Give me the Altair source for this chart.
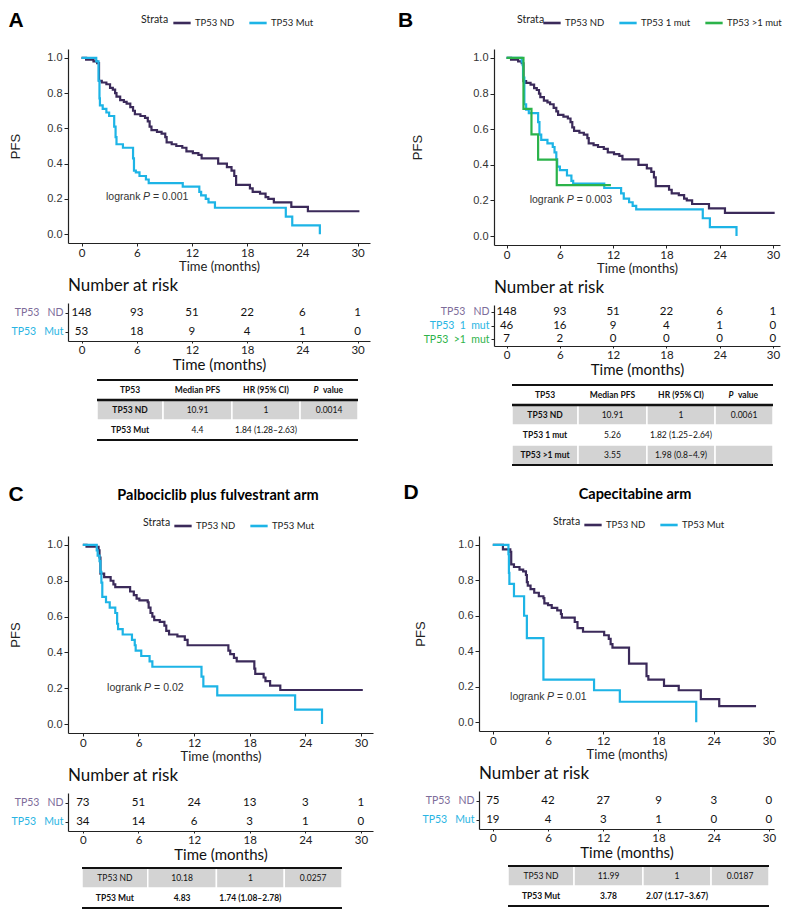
import altair as alt
import pandas as pd

# ---------------- data ----------------
PURPLE = "#3b2a5a"
BLUE = "#1db4e6"
GREEN = "#2bb34a"
LBL_PURPLE = "#7d6c9a"
LBL_BLUE = "#29b5e3"
LBL_GREEN = "#2db34a"

ND_T = [0, 0.5, 1.3, 1.7, 1.9, 2.2, 2.7, 3.1, 3.4, 3.65, 3.8, 4.2, 4.6, 4.9, 5.3, 5.6, 5.8, 6.4, 6.9, 7.2,
        7.4, 7.6, 8.2, 8.7, 9.1, 9.25, 9.8, 10.3, 10.95, 11.4, 12.1, 12.7, 13.05, 14.85, 15.8, 16.3, 16.6,
        16.8, 18.3, 18.6, 19.4, 20.0, 20.3, 20.9, 22.8, 24.6, 30.2]
ND_S = [1.0, 0.99, 0.98, 0.97, 0.87, 0.86, 0.85, 0.83, 0.82, 0.80, 0.78, 0.76, 0.75, 0.74, 0.72, 0.70, 0.68,
        0.67, 0.66, 0.64, 0.61, 0.59, 0.58, 0.57, 0.55, 0.52, 0.51, 0.50, 0.49, 0.47, 0.46, 0.45, 0.43, 0.40,
        0.38, 0.36, 0.33, 0.28, 0.26, 0.24, 0.23, 0.21, 0.20, 0.18, 0.155, 0.13, 0.13]

A_MUT_T = [0, 1.6, 1.85, 1.95, 2.0, 2.3, 2.7, 3.0, 3.55, 3.7, 3.8, 4.5, 5.6, 5.7, 5.9, 6.3, 7.0, 7.3, 11.0,
           12.8, 13.0, 13.5, 13.8, 14.5, 22.2, 22.9, 25.9]
A_MUT_S = [1.0, 0.98, 0.87, 0.77, 0.73, 0.71, 0.69, 0.67, 0.61, 0.55, 0.51, 0.49, 0.43, 0.36, 0.35, 0.33,
           0.31, 0.29, 0.27, 0.24, 0.22, 0.20, 0.18, 0.15, 0.10, 0.05, 0.0]

B_1MUT_T = [0, 1.7, 1.8, 1.85, 2.0, 2.2, 2.5, 3.55, 3.7, 3.9, 4.6, 5.2, 5.4, 5.6, 5.7, 6.0, 6.8, 7.3, 7.5,
            11.0, 12.9, 13.2, 13.8, 14.2, 14.6, 22.1, 22.9, 25.9]
B_1MUT_S = [1.0, 0.98, 0.96, 0.89, 0.74, 0.71, 0.69, 0.64, 0.57, 0.54, 0.52, 0.50, 0.47, 0.43, 0.39, 0.37,
            0.34, 0.31, 0.295, 0.27, 0.24, 0.21, 0.19, 0.17, 0.15, 0.10, 0.05, 0.0]

B_2MUT_T = [0, 1.9, 2.8, 3.55, 5.65, 11.75]
B_2MUT_S = [1.0, 0.714, 0.571, 0.429, 0.286, 0.286]

C_ND_T = [0, 0.4, 1.7, 1.8, 1.9, 2.3, 3.0, 3.3, 3.5, 5.1, 5.5, 5.8, 6.1, 7.0, 7.1, 7.3, 7.5, 7.7, 8.3, 8.8,
          9.0, 9.3, 10.2, 11.0, 11.3, 15.7, 15.9, 16.3, 16.6, 18.5, 18.6, 19.5, 19.7, 20.2, 21.3, 30.2]
C_ND_S = [1.0, 0.99, 0.97, 0.93, 0.84, 0.82, 0.80, 0.78, 0.765, 0.74, 0.72, 0.70, 0.69, 0.68, 0.65, 0.62,
          0.60, 0.58, 0.57, 0.55, 0.52, 0.50, 0.49, 0.47, 0.44, 0.41, 0.39, 0.37, 0.35, 0.31, 0.28, 0.26,
          0.24, 0.215, 0.19, 0.19]

C_MUT_T = [0, 1.5, 1.6, 1.8, 1.9, 2.0, 2.1, 2.5, 2.9, 3.5, 3.7, 3.8, 4.3, 5.3, 5.6, 5.7, 6.3, 7.2, 7.5,
           12.8, 13.0, 14.5, 22.9, 25.8]
C_MUT_S = [1.0, 0.97, 0.94, 0.91, 0.85, 0.79, 0.71, 0.68, 0.65, 0.62, 0.56, 0.53, 0.50, 0.47, 0.44, 0.41,
           0.38, 0.35, 0.32, 0.265, 0.21, 0.16, 0.08, 0.0]

D_ND_T = [0, 1.1, 1.9, 2.0, 2.3, 2.9, 3.3, 3.6, 3.7, 3.8, 4.1, 4.5, 5.0, 5.5, 5.6, 6.0, 6.4, 7.0, 7.4, 7.5,
          8.9, 9.2, 9.8, 12.1, 12.6, 12.8, 13.0, 14.8, 16.7, 16.9, 18.6, 20.2, 22.6, 24.6, 28.6]
D_ND_S = [1.0, 0.975, 0.96, 0.89, 0.875, 0.86, 0.85, 0.83, 0.79, 0.77, 0.75, 0.73, 0.71, 0.70, 0.67, 0.66,
          0.645, 0.63, 0.61, 0.59, 0.565, 0.53, 0.51, 0.49, 0.47, 0.44, 0.42, 0.33, 0.26, 0.24, 0.205, 0.18,
          0.13, 0.09, 0.09]

D_MUT_T = [0, 1.7, 1.75, 1.8, 2.3, 3.4, 3.7, 5.5, 11.0, 13.8, 22.1]
D_MUT_S = [1.0, 0.947, 0.842, 0.78, 0.71, 0.60, 0.474, 0.24, 0.18, 0.115, 0.0]

RISK_TIMES = [0, 6, 12, 18, 24, 30]
A_RISK_ND = [148, 93, 51, 22, 6, 1]
A_RISK_MUT = [53, 18, 9, 4, 1, 0]
B_RISK_1MUT = [46, 16, 9, 4, 1, 0]
B_RISK_2MUT = [7, 2, 0, 0, 0, 0]
C_RISK_ND = [73, 51, 24, 13, 3, 1]
C_RISK_MUT = [34, 14, 6, 3, 1, 0]
D_RISK_ND = [75, 42, 27, 9, 3, 0]
D_RISK_MUT = [19, 4, 3, 1, 0, 0]

TABLE_HEADER = ["TP53", "Median PFS", "HR (95% CI)", "P value"]
A_TABLE = [["TP53 ND", "10.91", "1", "0.0014"], ["TP53 Mut", "4.4", "1.84 (1.28\u20132.63)", ""]]
B_TABLE = [["TP53 ND", "10.91", "1", "0.0061"], ["TP53 1 mut", "5.26", "1.82 (1.25\u20132.64)", ""],
           ["TP53 >1 mut", "3.55", "1.98 (0.8\u20134.9)", ""]]
C_TABLE = [["TP53 ND", "10.18", "1", "0.0257"], ["TP53 Mut", "4.83", "1.74 (1.08\u20132.78)", ""]]
D_TABLE = [["TP53 ND", "11.99", "1", "0.0187"], ["TP53 Mut", "3.78", "2.07 (1.17\u20133.67)", ""]]
COL_EDGES = [0, 0.253, 0.517, 0.778, 1.0]

NB = "\u00a0"
L_ND = "TP53" + NB * 3 + "ND"
L_MUT = "TP53" + NB * 3 + "Mut"
L_1MUT = "TP53" + NB * 2 + "1" + NB * 2 + "mut"
L_2MUT = "TP53" + NB * 2 + ">1" + NB * 2 + "mut"

TXT = "#222222"


def km_chart(curves, xdom, width, height, letter, letter_pos, strata_pos, legend_pos, p_text, p_pos,
             ytitle_x, title=None, title_pos=None):
    names = [c[0] for c in curves]
    colors = [c[1] for c in curves]
    recs = []
    for name, col, t, s in curves:
        for ti, si in zip(t, s):
            recs.append({"strata": name, "time": ti, "surv": si})
    df = pd.DataFrame(recs)
    xsc = alt.Scale(domain=xdom, nice=False, zero=False)
    ysc = alt.Scale(domain=[-0.05, 1.05], nice=False, zero=False)
    xenc = alt.X("time:Q", scale=xsc,
                 axis=alt.Axis(values=RISK_TIMES, title="Time (months)", labelFont="Lato",
                               labelFontSize=11.5, titleFont="Lato", titleFontSize=13,
                               titleFontWeight="normal", tickSize=3, labelPadding=1,
                               titlePadding=2, labelColor=TXT, titleColor=TXT, labelOverlap=False))
    yenc = alt.Y("surv:Q", scale=ysc,
                 axis=alt.Axis(values=[0, 0.2, 0.4, 0.6, 0.8, 1.0], format=".1f", title="PFS",
                               labelFont="Liberation Sans", labelFontSize=11,
                               titleFont="Liberation Sans", titleFontSize=13,
                               titleFontWeight="normal", tickSize=4, labelPadding=2,
                               titleX=ytitle_x, titleBaseline="middle", labelOverlap=False,
                               labelColor="#333333", titleColor=TXT))
    lines = alt.Chart(df).mark_line(interpolate="step-after", strokeWidth=2.2).encode(
        x=xenc, y=yenc,
        color=alt.Color("strata:N", scale=alt.Scale(domain=names, range=colors),
                        legend=alt.Legend(orient="none", legendX=legend_pos[0],
                                          legendY=legend_pos[1], direction="horizontal",
                                          gridAlign="none", title=None,
                                          labelFont="Lato", labelFontSize=9.5,
                                          labelColor=TXT, symbolType="stroke",
                                          symbolStrokeWidth=2.6, symbolSize=300,
                                          labelOffset=3, columnPadding=9)),
    )
    pdf = pd.DataFrame({"time": [p_pos[0]], "surv": [p_pos[1]], "a": ["logrank"], "b": ["P"],
                        "c": ["= " + p_text]})
    base_txt = dict(font="Liberation Sans", fontSize=10.5, color="#333333", align="left",
                    baseline="middle")
    t1 = alt.Chart(pdf).mark_text(**base_txt).encode(x=xenc, y=yenc, text="a:N")
    t2 = alt.Chart(pdf).mark_text(dx=37, fontStyle="italic", **base_txt).encode(x=xenc, y=yenc, text="b:N")
    t3 = alt.Chart(pdf).mark_text(dx=47, **base_txt).encode(x=xenc, y=yenc, text="c:N")
    lay = alt.Chart(pd.DataFrame({"t": [letter]})).mark_text(
        font="Liberation Sans", fontSize=21, fontWeight="bold", color="#000000",
        align="center", baseline="middle").encode(
        text="t:N", x=alt.value(letter_pos[0]), y=alt.value(letter_pos[1]))
    strata = alt.Chart(pd.DataFrame({"t": ["Strata"]})).mark_text(
        font="Lato", fontSize=10.5, color=TXT, align="left", baseline="middle").encode(
        text="t:N", x=alt.value(strata_pos[0]), y=alt.value(strata_pos[1]))
    layers = [lines, t1, t2, t3, lay, strata]
    if title:
        tl = alt.Chart(pd.DataFrame({"t": [title]})).mark_text(
            font="Lato", fontSize=14.5, fontWeight="bold", color="#000000",
            align="center", baseline="middle").encode(
            text="t:N", x=alt.value(title_pos[0]), y=alt.value(title_pos[1]))
        layers.append(tl)
    return alt.layer(*layers).properties(width=width, height=height)


def risk_chart(rows, xdom, width, height):
    labels = [r[0] for r in rows]
    recs = []
    for lab, col, counts in rows:
        for t, n in zip(RISK_TIMES, counts):
            recs.append({"strata": lab, "time": t, "n": n})
    df = pd.DataFrame(recs)
    expr = ""
    for lab, col, counts in rows[:-1]:
        expr += "datum.value === '%s' ? '%s' : " % (lab, col)
    expr += "'%s'" % rows[-1][1]
    return alt.Chart(df).mark_text(font="Lato", fontSize=11.5, color="#111111").encode(
        x=alt.X("time:Q", scale=alt.Scale(domain=xdom, nice=False, zero=False),
                axis=alt.Axis(values=RISK_TIMES, title="Time (months)", labelFont="Lato",
                              labelFontSize=11.5, titleFont="Lato", titleFontSize=15,
                              titleFontWeight="normal", tickSize=2, labelPadding=1,
                              titlePadding=2, labelColor=TXT, titleColor="#111111",
                              labelOverlap=False)),
        y=alt.Y("strata:N", sort=labels,
                axis=alt.Axis(title=None, labelFont="Lato", labelFontSize=10.5, tickSize=3,
                              labelPadding=2, labelColor={"expr": expr})),
        text="n:Q",
    ).properties(width=width, height=height,
                 title=alt.TitleParams("Number at risk", anchor="start", frame="group",
                                       font="Lato", fontSize=17, fontWeight="normal",
                                       color="#111111", offset=8))


def table_chart(header, rows, gray_rows, bold_rows, width, height, x_range, top, row_h=20):
    all_rows = ([header] if header else []) + rows
    n = len(all_rows)
    recs = []
    for r, cells in enumerate(all_rows):
        is_head = header is not None and r == 0
        dr = r - (1 if header else 0)
        for c, txt in enumerate(cells):
            gray = (not is_head) and dr in gray_rows
            bold = is_head or (c == 0 and header is not None) or (dr in bold_rows)
            kind = "b" if bold else "n"
            rec = dict(r=r, r1=r + 1, rc=r + 0.5, c0=COL_EDGES[c], c1=COL_EDGES[c + 1],
                       cc=(COL_EDGES[c] + COL_EDGES[c + 1]) / 2, text=txt, gray=gray, kind=kind)
            if is_head and txt == "P value":
                recs.append(dict(rec, text="P", kind="pi"))
                recs.append(dict(rec, text="value", kind="pv"))
            else:
                recs.append(rec)
    df = pd.DataFrame(recs)
    xs = alt.Scale(domain=[0, 1], range=x_range, nice=False, zero=False)
    ys = alt.Scale(domain=[0, n], range=[top, top + n * row_h], nice=False, zero=False)
    rects = alt.Chart(df).transform_filter("datum.gray").mark_rect(
        color="#d3d3d3", stroke="white", strokeWidth=1.5).encode(
        x=alt.X("c0:Q", scale=xs, axis=None), x2="c1:Q",
        y=alt.Y("r:Q", scale=ys, axis=None), y2="r1:Q")
    tx = dict(font="Lato", fontSize=8.5, color="#111111", baseline="middle")
    layers = [rects]
    for kind, extra in [("n", {}), ("b", {"fontWeight": "bold"}),
                        ("pi", {"fontWeight": "bold", "fontStyle": "italic", "dx": -13}),
                        ("pv", {"fontWeight": "bold", "dx": 4})]:
        layers.append(alt.Chart(df).transform_filter("datum.kind === '%s'" % kind).mark_text(
            **tx, **extra).encode(x=alt.X("cc:Q", scale=xs, axis=None),
                                  y=alt.Y("rc:Q", scale=ys, axis=None), text="text:N"))
    lines = [0, n] + ([1] if header else [])
    widths = [2.2, 2.2] + ([2.6] if header else [])
    ldf = pd.DataFrame({"y": lines, "w": widths, "a": [0] * len(lines), "b": [1] * len(lines)})
    rules = alt.Chart(ldf).mark_rule(color="#111111").encode(
        x=alt.X("a:Q", scale=xs, axis=None), x2="b:Q",
        y=alt.Y("y:Q", scale=ys, axis=None), size=alt.Size("w:Q", scale=None))
    layers.append(rules)
    return alt.layer(*layers).properties(width=width, height=height)


def panel(km, risk, table, sp):
    top = alt.vconcat(km, risk, table, spacing=sp)
    return top.resolve_scale(x="independent", y="independent", color="independent")


# ---------------- panels ----------------
XA = [-1.47, 31.35]
XB = [-1.42, 30.8]
XC = [-1.6, 31.3]
XD = [-1.5, 30.55]

kmA = km_chart([("TP53 ND", PURPLE, ND_T, ND_S), ("TP53 Mut", BLUE, A_MUT_T, A_MUT_S)], XA, 302, 194,
               "A", (-52, -28), (73, -29), (104, -36), "0.001", (2.66, 0.21), -53)
riskA = risk_chart([(L_ND, LBL_PURPLE, A_RISK_ND), (L_MUT, LBL_BLUE, A_RISK_MUT)], XA, 302, 38)
tabA = table_chart(TABLE_HEADER, A_TABLE, [0], [], 302, 66, [29, 290], 4)

kmB = km_chart([("TP53 ND", PURPLE, ND_T, ND_S), ("TP53 1 mut", BLUE, B_1MUT_T, B_1MUT_S),
                ("TP53 >1 mut", GREEN, B_2MUT_T, B_2MUT_S)], XB, 286, 196,
               "B", (-88.5, -28), (23, -29), (48, -36), "0.003", (2.6, 0.20), -76.5)
riskB = risk_chart([(L_ND, LBL_PURPLE, A_RISK_ND), (L_1MUT, LBL_BLUE, B_RISK_1MUT),
                    (L_2MUT, LBL_GREEN, B_RISK_2MUT)], XB, 286, 41)
tabB = table_chart(TABLE_HEADER, B_TABLE, [0, 2], [], 286, 86, [18, 279], 4)

kmC = km_chart([("TP53 ND", PURPLE, C_ND_T, C_ND_S), ("TP53 Mut", BLUE, C_MUT_T, C_MUT_S)], XC, 305, 197,
               "C", (-52, -41), (75, -13), (105, -20), "0.02", (2.62, 0.203), -53,
               "Palbociclib plus fulvestrant arm", (150, -40))
riskC = risk_chart([(L_ND, LBL_PURPLE, C_RISK_ND), (L_MUT, LBL_BLUE, C_RISK_MUT)], XC, 305, 38)
tabC = table_chart(None, C_TABLE, [0], [1], 305, 43, [14, 274], 1)

kmD = km_chart([("TP53 ND", PURPLE, D_ND_T, D_ND_S), ("TP53 Mut", BLUE, D_MUT_T, D_MUT_S)], XD, 295, 195,
               "D", (-68, -43), (74, -14), (104, -21), "0.01", (1.88, 0.14), -59,
               "Capecitabine arm", (156, -41))
riskD = risk_chart([(L_ND, LBL_PURPLE, D_RISK_ND), (L_MUT, LBL_BLUE, D_RISK_MUT)], XD, 295, 38)
tabD = table_chart(None, D_TABLE, [0], [1], 295, 43, [29, 290], 1)

pA = panel(kmA, riskA, tabA, 3)
pB = panel(kmB, riskB, tabB, 3)
pC = panel(kmC, riskC, tabC, 3)
pD = panel(kmD, riskD, tabD, 3)

row1 = alt.hconcat(pA, pB, spacing=27).resolve_scale(x="independent", y="independent", color="independent")
row2 = alt.hconcat(pC, pD, spacing=30).resolve_scale(x="independent", y="independent", color="independent")

chart = alt.vconcat(row1, row2, spacing=15).resolve_scale(
    x="independent", y="independent", color="independent"
).properties(padding={"left": 0, "top": 2, "right": 0, "bottom": 0}, background="white").configure_view(
    stroke=None
).configure_axis(grid=False, domainColor="#222222", tickColor="#222222", domainWidth=1.2, tickWidth=1)

chart.save("out.html", embed_options={"renderer": "svg", "actions": False})
